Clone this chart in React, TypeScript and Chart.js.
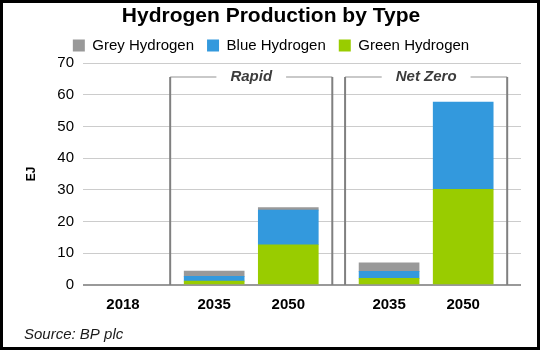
import React, { useEffect, useRef } from "react";
import { Chart, registerables } from "chart.js";

Chart.register(...registerables);

// ---- data ----
const categories = ["2018", "2035", "2050", "2035", "2050"];
const scenarios = ["", "Rapid", "Rapid", "Net Zero", "Net Zero"];
const greenHydrogen = [0, 1.2, 12.7, 2.1, 30.2];
const blueHydrogen = [0, 1.5, 10.9, 2.2, 27.5];
const greyHydrogen = [0, 1.7, 0.8, 2.7, 0];
const seriesNames = ["Green Hydrogen", "Blue Hydrogen", "Grey Hydrogen"];
const titleText = "Hydrogen Production by Type";
const yAxisTitle = "EJ";
const sourceText = "Source: BP plc";
const yMin = 0;
const yMax = 70;
const yStep = 10;

// ---- layout (not data) ----
const FONT = "'Liberation Sans', Arial, Helvetica, sans-serif";
const BAR = 60;
const GROUP_GAPS = [0.23, 0.36];
const X_LEFT_MARGIN = 0.54;
const X_RIGHT_MARGIN = 0.78;

const positions: number[] = [];
{
  let shift = 0;
  let t = 0;
  categories.forEach((_, i) => {
    if (i > 0 && scenarios[i] !== scenarios[i - 1]) {
      shift += GROUP_GAPS[t++] ?? 0.3;
    }
    positions.push(i + shift);
  });
}

const groups: { name: string; first: number; last: number }[] = [];
scenarios.forEach((s, i) => {
  if (!s) return;
  const g = groups.find((gg) => gg.name === s);
  if (g) g.last = i;
  else groups.push({ name: s, first: i, last: i });
});

const bracketPlugin = {
  id: "scenarioBrackets",
  afterDatasetsDraw(chart: any) {
    const { ctx, chartArea } = chart;
    const x = chart.scales.x;
    const y = chart.scales.y;
    const topY = chartArea.top + 14;
    const baseY = y.getPixelForValue(0);
    groups.forEach((g) => {
      const xl = x.getPixelForValue(positions[g.first]) - BAR / 2 - 14;
      const xr = x.getPixelForValue(positions[g.last]) + BAR / 2 + 14;
      ctx.save();
      ctx.font = `italic bold 15px ${FONT}`;
      const tw = ctx.measureText(g.name).width;
      const cx = (xl + xr) / 2;
      const gap = tw / 2 + 14;
      ctx.strokeStyle = "#b8b8b8";
      ctx.lineWidth = 1.5;
      ctx.beginPath();
      ctx.moveTo(xl, topY);
      ctx.lineTo(cx - gap, topY);
      ctx.moveTo(cx + gap, topY);
      ctx.lineTo(xr, topY);
      ctx.stroke();
      ctx.strokeStyle = "#808080";
      ctx.lineWidth = 2;
      ctx.beginPath();
      ctx.moveTo(xl, topY);
      ctx.lineTo(xl, baseY);
      ctx.moveTo(xr, topY);
      ctx.lineTo(xr, baseY);
      ctx.stroke();
      ctx.fillStyle = "#3c3c3c";
      ctx.textAlign = "center";
      ctx.textBaseline = "middle";
      ctx.fillText(g.name, cx, topY);
      ctx.restore();
    });
  },
};

const sourcePlugin = {
  id: "sourceNote",
  afterDraw(chart: any) {
    const { ctx } = chart;
    ctx.save();
    ctx.font = `italic 15px ${FONT}`;
    ctx.fillStyle = "#1a1a1a";
    ctx.textAlign = "left";
    ctx.textBaseline = "middle";
    ctx.fillText(sourceText, 21, 332);
    ctx.restore();
  },
};

export default function App() {
  const canvasRef = useRef<HTMLCanvasElement | null>(null);

  useEffect(() => {
    if (!canvasRef.current) return;
    const toPoints = (vals: number[]) =>
      vals.map((v, i) => ({ x: positions[i], y: v === 0 ? null : v }));
    const chart = new Chart(canvasRef.current, {
      type: "bar",
      data: {
        datasets: [
          { label: seriesNames[0], data: toPoints(greenHydrogen), backgroundColor: "#99cc00", borderWidth: 0, barThickness: BAR },
          { label: seriesNames[1], data: toPoints(blueHydrogen), backgroundColor: "#3399dd", borderWidth: 0, barThickness: BAR },
          { label: seriesNames[2], data: toPoints(greyHydrogen), backgroundColor: "#999999", borderWidth: 0, barThickness: BAR },
        ],
      },
      plugins: [bracketPlugin, sourcePlugin],
      options: {
        responsive: false,
        animation: false,
        layout: { padding: { left: 18, right: 16, top: 0, bottom: 32 } },
        plugins: {
          title: {
            display: true,
            text: titleText,
            color: "#000",
            font: { family: FONT, size: 21, weight: "bold", lineHeight: 1 },
            padding: { top: 3, bottom: -2 },
          },
          legend: {
            display: true,
            reverse: true,
            labels: {
              boxWidth: 12,
              boxHeight: 12,
              padding: 13,
              color: "#000",
              font: { family: FONT, size: 15 },
            },
          },
          tooltip: { enabled: false },
        },
        scales: {
          x: {
            type: "linear",
            stacked: true,
            offset: false,
            min: -X_LEFT_MARGIN,
            max: positions[positions.length - 1] + X_RIGHT_MARGIN,
            grid: { display: false, drawTicks: false, offset: false },
            border: { display: false },
            afterBuildTicks: (s: any) => {
              s.ticks = positions.map((v) => ({ value: v }));
            },
            afterFit: (s: any) => {
              s.height = 30;
            },
            ticks: {
              autoSkip: false,
              maxRotation: 0,
              minRotation: 0,
              padding: 11,
              color: "#000",
              font: { family: FONT, size: 15, weight: "bold" },
              callback: (_v: any, i: number) => categories[i],
            },
          },
          y: {
            stacked: true,
            min: yMin,
            max: yMax,
            grid: {
              drawTicks: false,
              color: (c: any) => (c.tick && c.tick.value === 0 ? "#999999" : "#cccccc"),
              lineWidth: (c: any) => (c.tick && c.tick.value === 0 ? 2 : 1),
            },
            border: { display: false },
            afterFit: (s: any) => {
              s.width = 62;
            },
            ticks: {
              stepSize: yStep,
              padding: 9,
              color: "#000",
              font: { family: FONT, size: 15 },
            },
            title: {
              display: true,
              text: yAxisTitle,
              color: "#000",
              font: { family: FONT, size: 12, weight: "bold" },
              padding: { top: 3, bottom: 0 },
            },
          },
        },
      },
    } as any);
    return () => chart.destroy();
  }, []);

  return (
    <div
      style={{
        position: "absolute",
        left: 0,
        top: 0,
        width: 540,
        height: 350,
        boxSizing: "border-box",
        border: "3px solid #000",
        background: "#fff",
      }}
    >
      <canvas ref={canvasRef} width={534} height={344} style={{ display: "block", width: 534, height: 344 }} />
    </div>
  );
}
